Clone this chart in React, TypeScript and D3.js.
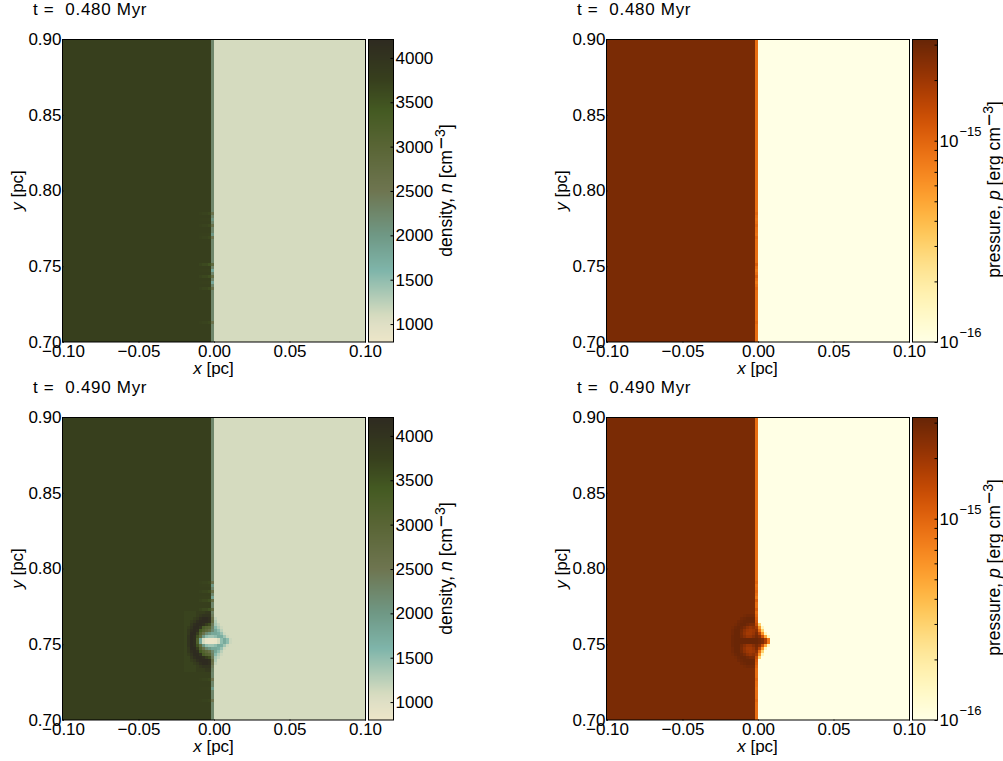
import React, { useEffect, useRef } from 'react';
import * as d3 from 'd3';

const FONT = '"Liberation Sans", Arial, sans-serif';
const GRID = 100;

const xTicks = [-0.1, -0.05, 0, 0.05, 0.1];
const yTicks = [0.7, 0.75, 0.8, 0.85, 0.9];
const densityTicks = [1000, 1500, 2000, 2500, 3000, 3500, 4000];
const densityDomain = [798, 4213];
const pressureDomain = [1e-16, 3.2e-15];
const pressureMajor = [1e-16, 1e-15];
const pressureMinor = [2e-16, 3e-16, 4e-16, 5e-16, 6e-16, 7e-16, 8e-16, 9e-16, 2e-15, 3e-15];

const densityStops = [798, 1000, 1100, 1600, 2000, 2500, 3000, 3400, 3750, 4213];
const densityColors = ['#ede6c8', '#dfdfc5', '#d5dbbf', '#7fb5aa', '#6f9885', '#6e7550', '#596535', '#445a22', '#373f1d', '#2e2a20'];

// left of the shock, shock column, right of the shock
const densityBase = [3750, 2250, 1100];
const pressureBase = [27, 9, 1]; // units of 1e-16

const shockColumn = 49;

// rows where the front is slightly rippled
const rippleRowsEarly = [57, 59, 61, 64, 65, 74, 76, 78, 80, 82, 93];
const rippleRowsLate = [54, 55, 57, 59, 60, 63, 86, 89, 93];
const rippleShockDensityEarly = [2550, 2050, 2600, 2000, 2500, 2800, 1800, 2700, 1800, 2600, 2550];
const rippleInnerDensityEarly = [3650, 3720, 3650, 3720, 3650, 3500, 3720, 3550, 3720, 3600, 3650];
const rippleShockDensityLate = [2550, 2000, 2650, 1850, 2700, 2800, 2500, 1950, 2500];
const rippleInnerDensityLate = [3650, 3720, 3600, 3720, 3550, 3500, 3650, 3720, 3680];
const rippleShockPressureEarly = [10, 8.5, 10, 8.5, 10, 11, 8, 11, 8, 10, 10];
const rippleShockPressureLate = [10, 8.5, 10, 8, 11, 11, 10, 8.5, 10];

// disturbed patch in the 0.490 Myr frames
const patchRow = 64;
const patchCol = 40;
const densityPatch = [
  [3700, 3700, 3700, 3700, 3800, 3800, 3800, 3900, 3900, 2300, 1100, 1100, 1100, 1100, 1100, 1100],
  [3700, 3700, 3700, 3700, 3800, 3900, 4000, 4000, 4000, 2400, 1100, 1100, 1100, 1100, 1100, 1100],
  [3700, 3700, 3700, 3800, 3900, 4100, 4200, 4200, 4100, 2600, 1200, 1100, 1100, 1100, 1100, 1100],
  [3700, 3700, 3800, 3900, 4100, 4200, 4200, 4200, 4100, 2700, 1300, 1100, 1100, 1100, 1100, 1100],
  [3700, 3700, 3900, 4100, 4200, 4200, 4100, 3800, 3600, 2400, 1350, 1200, 1100, 1100, 1100, 1100],
  [3700, 3800, 4000, 4200, 4200, 4000, 3300, 3100, 3000, 2300, 1550, 1300, 1150, 1100, 1100, 1100],
  [3700, 3900, 4100, 4200, 4100, 3400, 3100, 2900, 2700, 2200, 1800, 1500, 1250, 1100, 1100, 1100],
  [3700, 3900, 4200, 4200, 3800, 3100, 2600, 2200, 2000, 1800, 1800, 1700, 1450, 1150, 1100, 1100],
  [3700, 4000, 4200, 4100, 3500, 2800, 2000, 1500, 1400, 1400, 1500, 1750, 1700, 1400, 1150, 1100],
  [3700, 4000, 4200, 4100, 3200, 1800, 1100, 850, 830, 830, 850, 1100, 1500, 1750, 1500, 1150],
  [3700, 4000, 4200, 4100, 3200, 1800, 1100, 850, 830, 830, 850, 1100, 1500, 1750, 1500, 1150],
  [3700, 4000, 4200, 4100, 3500, 2800, 2000, 1500, 1400, 1400, 1500, 1750, 1700, 1400, 1150, 1100],
  [3700, 3900, 4200, 4200, 3800, 3100, 2600, 2200, 2000, 1800, 1800, 1700, 1450, 1150, 1100, 1100],
  [3700, 3900, 4100, 4200, 4100, 3400, 3100, 2900, 2700, 2200, 1800, 1500, 1250, 1100, 1100, 1100],
  [3700, 3800, 4000, 4200, 4200, 4000, 3300, 3100, 3000, 2300, 1550, 1300, 1150, 1100, 1100, 1100],
  [3700, 3700, 3900, 4100, 4200, 4200, 4100, 3800, 3600, 2400, 1350, 1200, 1100, 1100, 1100, 1100],
  [3700, 3700, 3800, 3900, 4100, 4200, 4200, 4200, 4100, 2700, 1300, 1100, 1100, 1100, 1100, 1100],
  [3700, 3700, 3700, 3800, 3900, 4100, 4200, 4200, 4100, 2600, 1200, 1100, 1100, 1100, 1100, 1100],
  [3700, 3700, 3700, 3700, 3800, 3900, 4000, 4000, 4000, 2400, 1100, 1100, 1100, 1100, 1100, 1100],
  [3700, 3700, 3700, 3700, 3800, 3800, 3800, 3900, 3900, 2300, 1100, 1100, 1100, 1100, 1100, 1100],
];
const pressurePatch = [
  [27, 27, 27, 27, 27, 27, 27, 27, 27, 9, 1, 1, 1, 1, 1, 1],
  [27, 27, 27, 27, 27, 28, 29, 29, 29, 10, 1, 1, 1, 1, 1, 1],
  [27, 27, 27, 27, 29, 30, 31, 31, 31, 11, 1, 1, 1, 1, 1, 1],
  [27, 27, 27, 29, 30, 31, 31, 31, 31, 12, 1, 1, 1, 1, 1, 1],
  [27, 27, 28, 30, 31, 31, 29, 27, 27, 14, 3, 1, 1, 1, 1, 1],
  [27, 28, 30, 31, 30, 27, 23, 21, 23, 19, 6, 1.5, 1, 1, 1, 1],
  [27, 29, 31, 31, 28, 23, 20, 19, 20, 23, 9, 3, 1, 1, 1, 1],
  [27, 29, 31, 31, 27, 22, 19, 19, 21, 26, 16, 6, 1.5, 1, 1, 1],
  [27, 30, 31, 31, 28, 24, 21, 21, 24, 28, 24, 13, 5, 1.5, 1, 1],
  [27, 30, 31, 31, 31, 31, 31, 31, 31, 31, 29, 26, 18, 8, 1, 1],
  [27, 30, 31, 31, 31, 31, 31, 31, 31, 31, 29, 26, 18, 8, 1, 1],
  [27, 30, 31, 31, 28, 24, 21, 21, 24, 28, 24, 13, 5, 1.5, 1, 1],
  [27, 29, 31, 31, 27, 22, 19, 19, 21, 26, 16, 6, 1.5, 1, 1, 1],
  [27, 29, 31, 31, 28, 23, 20, 19, 20, 23, 9, 3, 1, 1, 1, 1],
  [27, 28, 30, 31, 30, 27, 23, 21, 23, 19, 6, 1.5, 1, 1, 1, 1],
  [27, 27, 28, 30, 31, 31, 29, 27, 27, 14, 3, 1, 1, 1, 1, 1],
  [27, 27, 27, 29, 30, 31, 31, 31, 31, 12, 1, 1, 1, 1, 1, 1],
  [27, 27, 27, 27, 29, 30, 31, 31, 31, 11, 1, 1, 1, 1, 1, 1],
  [27, 27, 27, 27, 27, 28, 29, 29, 29, 10, 1, 1, 1, 1, 1, 1],
  [27, 27, 27, 27, 27, 27, 27, 27, 27, 9, 1, 1, 1, 1, 1, 1],
];

const densityColor = d3.scaleLinear<string>().domain(densityStops).range(densityColors).clamp(true);
const pressureColor = d3.scaleSequentialLog(d3.interpolateYlOrBr).domain(pressureDomain);

function buildGrid(
  base: number[],
  rippleRows: number[],
  rippleShock: number[],
  rippleInner: number[] | null,
  patch: number[][] | null,
) {
  const rows = d3.range(GRID).map(() =>
    d3.range(GRID).map((c) => (c < shockColumn ? base[0] : c === shockColumn ? base[1] : base[2])),
  );
  rippleRows.forEach((r, i) => {
    rows[r][shockColumn] = rippleShock[i];
    if (rippleInner) {
      // the ripple fades towards the left of the front
      rows[r][shockColumn - 1] = rippleInner[i];
      rows[r][shockColumn - 2] = (rippleInner[i] + base[0]) / 2;
      rows[r][shockColumn - 3] = (rippleInner[i] + base[0]) / 2;
      rows[r][shockColumn - 4] = (rippleInner[i] + 3 * base[0]) / 4;
    }
  });
  if (patch) {
    patch.forEach((line, i) =>
      line.forEach((v, j) => {
        rows[patchRow + i][patchCol + j] = v;
      }),
    );
  }
  return rows;
}

type PanelProps = {
  left: number;
  top: number;
  time: string;
  rows: number[][];
  kind: 'density' | 'pressure';
};

function Panel({ left, top, time, rows, kind }: PanelProps) {
  const axisRef = useRef<SVGGElement>(null);
  const W = 302;
  const H = 303;
  const barX = W + 4;
  const barW = 24;

  const x = d3.scaleLinear().domain([-0.1, 0.1]).range([0, W]);
  const y = d3.scaleLinear().domain([0.7, 0.9]).range([H, 0]);
  const col = d3.scaleLinear().domain([0, GRID]).range([0, W]);
  const row = d3.scaleLinear().domain([0, GRID]).range([0, H]);
  const barY: any =
    kind === 'density'
      ? d3.scaleLinear().domain(densityDomain).range([H, 0])
      : d3.scaleLog().domain(pressureDomain).range([H, 0]);
  const color = (v: number) => (kind === 'density' ? densityColor(v) : pressureColor(v * 1e-16));
  const barColor = (v: number) => (kind === 'density' ? densityColor(v) : pressureColor(v));

  // merge equal neighbours so the heatmap stays light
  const runs: { r: number; c0: number; c1: number; v: number }[] = [];
  rows.forEach((line, r) => {
    let c0 = 0;
    line.forEach((v, c) => {
      if (c === line.length - 1 || line[c + 1] !== v) {
        runs.push({ r, c0, c1: c + 1, v });
        c0 = c + 1;
      }
    });
  });

  useEffect(() => {
    const g = d3.select(axisRef.current);
    g.selectAll('*').remove();

    const style = (a: any) => {
      a.select('.domain').remove();
      a.selectAll('text').attr('font-family', FONT).attr('font-size', 17).attr('fill', '#000');
      a.selectAll('line').attr('stroke', '#000');
    };

    g.append('g')
      .attr('transform', `translate(0,${H + 0.5})`)
      .call(d3.axisBottom(x).tickValues(xTicks).tickSizeInner(-1).tickPadding(4).tickFormat(d3.format('.2f') as any))
      .call(style)
      .selectAll('text')
      .attr('dy', '0.71em')
      .attr('y', 2);

    g.append('g')
      .attr('transform', 'translate(-0.5,0)')
      .call(d3.axisLeft(y).tickValues(yTicks).tickSizeInner(-1).tickPadding(0).tickFormat(d3.format('.2f') as any))
      .call(style)
      .selectAll('text')
      .attr('x', -1);

    const bar = g.append('g').attr('transform', `translate(${barX + barW + 0.5},0)`);
    if (kind === 'density') {
      bar
        .call(d3.axisRight(barY).tickValues(densityTicks).tickSizeInner(-3).tickPadding(0).tickFormat(d3.format('d') as any))
        .call(style)
        .selectAll('text')
        .attr('x', 2);
    } else {
      bar
        .call(d3.axisRight(barY).tickValues([...pressureMajor, ...pressureMinor]).tickSizeInner(-3).tickPadding(0).tickFormat(() => ''))
        .call(style);
      pressureMajor.forEach((v) => {
        const label = bar
          .append('text')
          .attr('x', 2)
          .attr('y', barY(v) + 6)
          .attr('font-family', FONT)
          .attr('font-size', 17)
          .attr('fill', '#000');
        label.append('tspan').text('10');
        label
          .append('tspan')
          .attr('dy', -11)
          .attr('dx', 1)
          .attr('font-size', 13)
          .text(`\u2212${Math.abs(Math.round(Math.log10(v)))}`);
      });
    }
  }, [kind]);

  const barSteps = d3.range(H).map((i) => i);

  return (
    <g transform={`translate(${left},${top})`}>
      <text x={-30} y={-24} fontFamily={FONT} fontSize={17} letterSpacing={0.7} xmlSpace="preserve" style={{ whiteSpace: 'pre' }}>
        {`t =  ${time} Myr`}
      </text>
      <g shapeRendering="crispEdges">
        {runs.map((d, i) => (
          <rect
            key={i}
            x={Math.round(col(d.c0))}
            y={Math.round(row(d.r))}
            width={Math.round(col(d.c1)) - Math.round(col(d.c0))}
            height={Math.round(row(d.r + 1)) - Math.round(row(d.r))}
            fill={color(d.v)}
          />
        ))}
        {barSteps.map((i) => (
          <rect key={i} x={barX} y={i} width={barW} height={1} fill={barColor(barY.invert(i + 0.5))} />
        ))}
      </g>
      <rect x={-0.5} y={0.5} width={W + 1} height={H - 0.5} fill="none" stroke="#000" strokeWidth={1} />
      <rect x={barX - 0.5} y={0.5} width={barW + 1} height={H - 0.5} fill="none" stroke="#000" strokeWidth={1} />
      <g ref={axisRef} />
      <text x={W / 2 - 0.5} y={H + 32} textAnchor="middle" fontFamily={FONT} fontSize={17}>
        <tspan fontStyle="italic">x</tspan> [pc]
      </text>
      <text
        transform={`translate(-40,${H / 2}) rotate(-90)`}
        textAnchor="middle"
        fontFamily={FONT}
        fontSize={17}
      >
        <tspan fontStyle="italic">y</tspan> [pc]
      </text>
      {kind === 'density' ? (
        <text transform={`translate(${W + 87},${H / 2}) rotate(-90)`} textAnchor="middle" fontFamily={FONT} fontSize={17.5}>
          density, <tspan fontStyle="italic">n</tspan> [cm
          <tspan dy={-4} dx={1} fontSize={21}>{'\u2212'}</tspan>
          <tspan dy={-3} fontSize={14}>3</tspan>
          <tspan dy={7}>]</tspan>
        </text>
      ) : (
        <text transform={`translate(${W + 91},${H / 2 - 1}) rotate(-90)`} textAnchor="middle" fontFamily={FONT} fontSize={17.5}>
          pressure, <tspan fontStyle="italic">p</tspan> [erg cm
          <tspan dy={-4} dx={1} fontSize={21}>{'\u2212'}</tspan>
          <tspan dy={-3} fontSize={14}>3</tspan>
          <tspan dy={7}>]</tspan>
        </text>
      )}
    </g>
  );
}

export default function App() {
  const densityEarly = buildGrid(densityBase, rippleRowsEarly, rippleShockDensityEarly, rippleInnerDensityEarly, null);
  const densityLate = buildGrid(densityBase, rippleRowsLate, rippleShockDensityLate, rippleInnerDensityLate, densityPatch);
  const pressureEarly = buildGrid(pressureBase, rippleRowsEarly, rippleShockPressureEarly, null, null);
  const pressureLate = buildGrid(pressureBase, rippleRowsLate, rippleShockPressureLate, null, pressurePatch);

  return (
    <svg
      width={1003}
      height={761}
      viewBox="0 0 1003 761"
      style={{ position: 'absolute', left: 0, top: 0, background: '#fff' }}
    >
      <Panel left={63} top={39} time="0.480" rows={densityEarly} kind="density" />
      <Panel left={607} top={39} time="0.480" rows={pressureEarly} kind="pressure" />
      <Panel left={63} top={417} time="0.490" rows={densityLate} kind="density" />
      <Panel left={607} top={417} time="0.490" rows={pressureLate} kind="pressure" />
    </svg>
  );
}
